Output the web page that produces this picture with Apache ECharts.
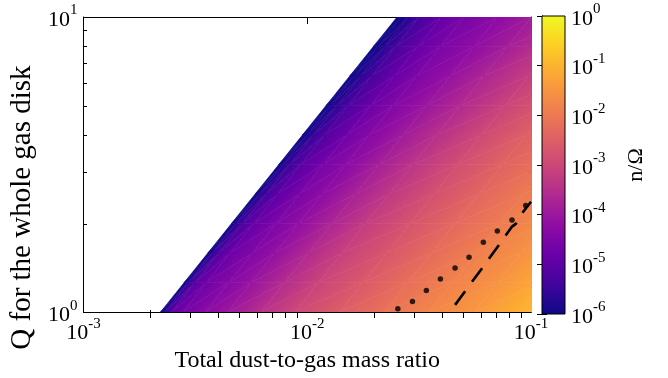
<!DOCTYPE html>
<html>
<head>
<meta charset="utf-8">
<script src="https://cdn.jsdelivr.net/npm/echarts@6/dist/echarts.min.js"></script>
<style>
html,body{margin:0;padding:0;background:#fff;}
#main{width:668px;height:378px;}
</style>
</head>
<body>
<div id="main"></div>
<script>
// edge of the unstable region (left of it is white), read at Q = 1 and Q = 10
var boundaryX = [2.21e-3, 0.0252];
var boundaryQ = [1, 10];

// Q levels of the colour map nodes
var qNodes = [1, 1.259, 1.585, 1.995, 2.512, 3.162, 3.981, 5.012, 6.310, 7.943, 10];
// columns: distance from the edge, in decades of dust-to-gas ratio
var uCols = [0, 0.02, 0.05, 0.1, 0.2, 0.3, 0.45, 0.6, 0.8, 1.0, 1.2, 1.4, 1.6, 1.75];
// log10(n/Omega), one array per Q level (Q = 1 first)
var rate0  = [-6, -5.49, -4.95, -4.65, -4.29, -3.99, -3.45, -2.97, -2.55, -2.13, -1.77, -1.47, -1.05, -0.81];
var rate1  = [-6, -5.55, -5.04, -4.71, -4.35, -4.05, -3.54, -3.06, -2.61, -2.19, -1.83, -1.53, -1.11, -0.87];
var rate2  = [-6, -5.61, -5.13, -4.77, -4.41, -4.11, -3.60, -3.12, -2.67, -2.25, -1.89, -1.59, -1.17];
var rate3  = [-6, -5.67, -5.22, -4.86, -4.47, -4.17, -3.69, -3.21, -2.73, -2.31, -1.95, -1.65, -1.23];
var rate4  = [-6, -5.70, -5.34, -4.98, -4.53, -4.23, -3.75, -3.30, -2.79, -2.37, -2.01, -1.71];
var rate5  = [-6, -5.73, -5.43, -5.07, -4.59, -4.29, -3.81, -3.36, -2.85, -2.43, -2.07, -1.77];
var rate6  = [-6, -5.79, -5.52, -5.16, -4.68, -4.35, -3.90, -3.48, -2.94, -2.49, -2.13];
var rate7  = [-6, -5.83, -5.61, -5.25, -4.77, -4.41, -3.99, -3.60, -3.06, -2.61, -2.22];
var rate8  = [-6, -5.87, -5.65, -5.29, -4.81, -4.47, -4.08, -3.69, -3.18, -2.70];
var rate9  = [-6, -5.90, -5.69, -5.33, -4.85, -4.53, -4.20, -3.84, -3.30, -2.82];
var rate10 = [-6, -5.92, -5.71, -5.35, -4.87, -4.58, -4.26, -3.90, -3.39];
var rateRows = [rate0, rate1, rate2, rate3, rate4, rate5, rate6, rate7, rate8, rate9, rate10];

// dotted curve (markers) and dashed curve
var dotX = [0.02541, 0.02953, 0.03408, 0.03937, 0.04578, 0.05287, 0.06124, 0.07072, 0.08226, 0.09469];
var dotQ = [1.026, 1.086, 1.183, 1.295, 1.410, 1.535, 1.725, 1.884, 2.051, 2.298];
var dashX = [0.04578, 0.06023, 0.07175, 0.0820, 0.0857, 0.0909, 0.1];
var dashQ = [1.058, 1.403, 1.685, 1.944, 1.994, 2.154, 2.365];

// axes
var xRange = [1e-3, 0.1];
var qRange = [1, 10];
var rateRange = [1e-6, 1];
var logRateRange = [-6, 0];
var minorMantissa = [2, 3, 4, 5, 6, 7, 8, 9];

var plasma = ['#0d0887', '#41049d', '#6a00a8', '#8f0da4', '#b12a90', '#cc4778',
              '#e16462', '#f2844b', '#fca636', '#fcce25', '#f0f921'];

var font = 'Liberation Serif';
var black = '#000';

function minorTicks(lo, hi) {
  var out = [];
  for (var d = lo; d < hi; d++) {
    minorMantissa.forEach(function (m) { out.push(d + Math.log10(m)); });
  }
  return out;
}

function boundaryAt(q) {
  var t = Math.log10(q / boundaryQ[0]) / Math.log10(boundaryQ[1] / boundaryQ[0]);
  return Math.pow(10, Math.log10(boundaryX[0]) + t * Math.log10(boundaryX[1] / boundaryX[0]));
}

function powLabel(v) {
  var e = Math.round(Math.log10(v));
  return '{b|10}{e|' + e + '}';
}

var labelRich = {
  b: { fontFamily: font, fontSize: 22, color: black, padding: [6, 0, 0, 0] },
  e: { fontFamily: font, fontSize: 15, color: black, verticalAlign: 'top' }
};

// flatten the nodes, remember where each row starts
var mapData = [];
var rowStart = [];
rateRows.forEach(function (row, r) {
  rowStart.push(mapData.length);
  row.forEach(function (v, c) { mapData.push([r, c, v]); });
});

var dotData = dotX.map(function (x, i) { return [x, dotQ[i]]; });
var dashData = dashX.map(function (x, i) { return [x, dashQ[i]]; });

// one triangle, coloured through the colour map along its value gradient
function triangle(P, V, C) {
  var x1 = P[1][0] - P[0][0], y1 = P[1][1] - P[0][1];
  var x2 = P[2][0] - P[0][0], y2 = P[2][1] - P[0][1];
  var d1 = V[1] - V[0], d2 = V[2] - V[0];
  var det = x1 * y2 - x2 * y1;
  var lo = 0, hi = 0;
  for (var i = 1; i < 3; i++) {
    if (V[i] < V[lo]) lo = i;
    if (V[i] > V[hi]) hi = i;
  }
  var span = V[hi] - V[lo];
  var fill = C[lo];
  if (span > 1e-9 && Math.abs(det) > 1e-9) {
    var gx = (d1 * y2 - y1 * d2) / det, gy = (x1 * d2 - x2 * d1) / det;
    var k = span / (gx * gx + gy * gy);
    var S = P[lo];
    var stops = [{ offset: 0, color: C[lo] }];
    plasma.forEach(function (col, j) {
      var s = logRateRange[0] + (logRateRange[1] - logRateRange[0]) * j / (plasma.length - 1);
      if (s > V[lo] && s < V[hi]) stops.push({ offset: (s - V[lo]) / span, color: col });
    });
    stops.push({ offset: 1, color: C[hi] });
    fill = new echarts.graphic.LinearGradient(S[0], S[1], S[0] + gx * k, S[1] + gy * k, stops, true);
  }
  return { type: 'polygon', shape: { points: P }, style: { fill: fill, stroke: fill, lineWidth: 0.6 } };
}

function majorTick(len) { return { show: true, inside: true, length: len, lineStyle: { color: black, width: 1 } }; }
function minorAxis(pos, gi, lo, hi) {
  return {
    type: 'value', gridIndex: gi, position: pos, min: lo, max: hi,
    axisLine: { show: false }, axisLabel: { show: false }, splitLine: { show: false },
    axisTick: { show: true, inside: true, length: gi === 1 ? 4 : 3, lineStyle: { color: black },
                customValues: minorTicks(lo, hi) }
  };
}

var chart = echarts.init(document.getElementById('main'));
var option = {
  animation: false,
  textStyle: { fontFamily: font },
  grid: [
    { left: 83, top: 17, width: 448, height: 297 },
    { left: 83, top: 17, width: 448, height: 297 },
    { left: 542, top: 16, width: 23, height: 298 },
    { left: 542, top: 16, width: 23, height: 298 }
  ],
  visualMap: {
    type: 'continuous', show: false, min: logRateRange[0], max: logRateRange[1], dimension: 2, seriesIndex: 0,
    inRange: { color: plasma }
  },
  xAxis: [
    {
      type: 'log', gridIndex: 0, position: 'bottom', min: xRange[0], max: xRange[1],
      axisLine: { lineStyle: { color: black } }, axisTick: majorTick(7), splitLine: { show: false },
      axisLabel: { formatter: powLabel, rich: labelRich, margin: 4 },
      name: 'Total dust-to-gas mass ratio', nameLocation: 'middle', nameGap: 35,
      nameTextStyle: { fontFamily: font, fontSize: 24, color: black }
    },
    {
      type: 'log', gridIndex: 0, position: 'top', min: xRange[0], max: xRange[1],
      axisLine: { lineStyle: { color: black } }, axisTick: majorTick(7),
      axisLabel: { show: false }, splitLine: { show: false }
    },
    minorAxis('bottom', 1, -3, -1),
    minorAxis('top', 1, -3, -1),
    { type: 'value', gridIndex: 2, min: 0, max: 1, show: false },
    { type: 'value', gridIndex: 3, min: 0, max: 1, show: false }
  ],
  yAxis: [
    {
      type: 'log', gridIndex: 0, position: 'left', min: qRange[0], max: qRange[1],
      axisLine: { lineStyle: { color: black } }, axisTick: majorTick(7), splitLine: { show: false },
      axisLabel: { formatter: powLabel, rich: labelRich, margin: 6 },
      name: 'Q for the whole gas disk', nameLocation: 'middle', nameGap: 38, nameRotate: 90,
      nameTextStyle: { fontFamily: font, fontSize: 29, color: black, padding: [0, 86, 0, 0] }
    },
    {
      type: 'log', gridIndex: 0, position: 'right', min: qRange[0], max: qRange[1],
      axisLine: { lineStyle: { color: black } }, axisTick: majorTick(7),
      axisLabel: { show: false }, splitLine: { show: false }
    },
    minorAxis('left', 1, 0, 1),
    minorAxis('right', 1, 0, 1),
    {
      type: 'log', gridIndex: 2, position: 'right', min: rateRange[0], max: rateRange[1],
      axisLine: { lineStyle: { color: black } }, axisTick: majorTick(5), splitLine: { show: false },
      axisLabel: { formatter: powLabel, rich: labelRich, margin: 6 },
      name: 'n/\u03A9', nameLocation: 'middle', nameGap: 60, nameRotate: 90,
      nameTextStyle: { fontFamily: font, fontSize: 22, color: black }
    },
    {
      type: 'log', gridIndex: 2, position: 'left', min: rateRange[0], max: rateRange[1],
      axisLine: { lineStyle: { color: black } }, axisTick: majorTick(5),
      axisLabel: { show: false }, splitLine: { show: false }
    },
    minorAxis('left', 3, logRateRange[0], logRateRange[1]),
    minorAxis('right', 3, logRateRange[0], logRateRange[1])
  ],
  series: [
    {
      type: 'custom', xAxisIndex: 0, yAxisIndex: 0, clip: true, data: mapData, z: 1,
      renderItem: function (params, api) {
        var r = api.value(0), c = api.value(1);
        if (r >= rateRows.length - 1) return null;
        if (c + 1 >= rateRows[r].length || c + 1 >= rateRows[r + 1].length) return null;
        var idx = [rowStart[r] + c, rowStart[r] + c + 1, rowStart[r + 1] + c + 1, rowStart[r + 1] + c];
        var q = [qNodes[r], qNodes[r], qNodes[r + 1], qNodes[r + 1]];
        var u = [uCols[c], uCols[c + 1], uCols[c + 1], uCols[c]];
        var P = [], V = [], C = [];
        for (var i = 0; i < 4; i++) {
          P.push(api.coord([boundaryAt(q[i]) * Math.pow(10, u[i]), q[i]]));
          V.push(mapData[idx[i]][2]);
          C.push(api.visual('color', idx[i]));
        }
        return {
          type: 'group',
          children: [
            triangle([P[0], P[1], P[2]], [V[0], V[1], V[2]], [C[0], C[1], C[2]]),
            triangle([P[0], P[2], P[3]], [V[0], V[2], V[3]], [C[0], C[2], C[3]])
          ]
        };
      }
    },
    {
      type: 'line', xAxisIndex: 0, yAxisIndex: 0, data: dashData, symbol: 'none', z: 3,
      lineStyle: { color: black, width: 2.6, type: [17, 11.6] }
    },
    {
      type: 'scatter', xAxisIndex: 0, yAxisIndex: 0, data: dotData, symbolSize: 5.5, z: 4,
      itemStyle: { color: black }
    },
    {
      type: 'custom', xAxisIndex: 4, yAxisIndex: 4, data: [[0, rateRange[0], 1, rateRange[1]]], z: 1,
      renderItem: function (params, api) {
        var p0 = api.coord([api.value(0), api.value(3)]);
        var p1 = api.coord([api.value(2), api.value(1)]);
        var stops = plasma.map(function (col, i) { return { offset: 1 - i / (plasma.length - 1), color: col }; }).reverse();
        return {
          type: 'rect', shape: { x: p0[0], y: p0[1], width: p1[0] - p0[0], height: p1[1] - p0[1] },
          style: { fill: new echarts.graphic.LinearGradient(0, 0, 0, 1, stops), stroke: black, lineWidth: 1 }
        };
      }
    }
  ]
};
chart.setOption(option);
</script>
</body>
</html>
